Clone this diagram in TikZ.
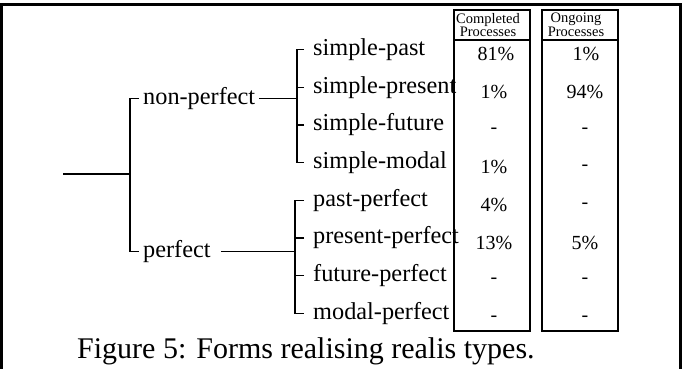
\documentclass[tikz,border=0pt]{standalone}
\usepackage{fontspec}
\setmainfont{Liberation Serif}
\usetikzlibrary{positioning,calc}
\tikzset{
  leaf/.style={anchor=west,inner xsep=9pt,inner ysep=0pt,font=\fontsize{24.3}{26}\selectfont},
  mid/.style={anchor=west,inner xsep=4pt,inner ysep=0pt,font=\fontsize{24.3}{26}\selectfont},
  val/.style={anchor=base,inner sep=0pt,font=\fontsize{20}{22}\selectfont},
  head/.style={anchor=north,inner sep=0pt,align=center,font=\fontsize{14.5}{12}\selectfont},
  colbox/.style={draw,line width=1.4pt,minimum width=76pt,minimum height=321pt,inner sep=0pt},
  branch/.style={line width=1.3pt},
  frame/.style={line width=3pt}
}

\begin{document}
\begin{tikzpicture}[x=1pt,y=-1pt]
\useasboundingbox (0,0) rectangle (682,369);
\draw[frame] (1.5,369) -- (1.5,4.3) -- (680.3,4.3) -- (680.3,369);

% columns
\node[colbox] (compl) at (492,170.5) {};
\node[colbox] (ongo) at (580,170.5) {};
\draw[line width=1.4pt] (454,40) -- (530,40);
\draw[line width=1.4pt] (542,40) -- (618,40);
\node[head] (hcompl) at (488,13) {Completed\\Processes};
\node[head] (hongo) at (576,13) {Ongoing\\Processes};

% tree
\coordinate (root) at (63,174);
\coordinate (jr) at (130,174);
\node[mid] (nonp) at (139,98.7) {non-perfect};
\node[mid] (perf) at (139,251.5) {perfect};
\coordinate (jn) at (297,98.7);
\coordinate (jp) at (295,251.5);

\node[leaf] (spast) at (304,49.5) {simple-past};
\node[leaf] (spres) at (304,87.2) {simple-present};
\node[leaf] (sfut) at (304,124.9) {simple-future};
\node[leaf] (smod) at (304,162.6) {simple-modal};
\node[leaf] (ppast) at (304,200.3) {past-perfect};
\node[leaf] (ppres) at (304,238) {present-perfect};
\node[leaf] (pfut) at (304,275.7) {future-perfect};
\node[leaf] (pmod) at (304,313.4) {modal-perfect};

\draw[branch] (root) -- (jr);
\draw[branch] (nonp.west) -| (jr) |- (perf.west);
\draw[branch] (nonp.east) -- (jn);
\draw[branch,shorten <=6pt] (perf.east) -- (jp);
\draw[branch] (spast.west) -| (jn) |- (smod.west);
\draw[branch] (spres.west) -- (spres.west -| jn);
\draw[branch] (sfut.west) -- (sfut.west -| jn);
\draw[branch] (ppast.west) -| (jp) |- (pmod.west);
\draw[branch] (ppres.west) -- (ppres.west -| jp);
\draw[branch] (pfut.west) -- (pfut.west -| jp);

% values
\node[val] (c1) at (496,60.5) {81\%};
\node[val] (o1) at (586,60.5) {1\%};
\node[val] (c2) at (494,98.2) {1\%};
\node[val] (o2) at (585,98.2) {94\%};
\node[val] (c3) at (494,133) {-};
\node[val] (o3) at (585,133) {-};
\node[val] (c4) at (494,173.6) {1\%};
\node[val] (o4) at (585,170.6) {-};
\node[val] (c5) at (494,211.3) {4\%};
\node[val] (o5) at (585,208.3) {-};
\node[val] (c6) at (494,249) {13\%};
\node[val] (o6) at (585,249) {5\%};
\node[val] (c7) at (494,283.7) {-};
\node[val] (o7) at (585,283.7) {-};
\node[val] (c8) at (494,321.4) {-};
\node[val] (o8) at (585,321.4) {-};

\node[anchor=base west,inner sep=0pt,font=\fontsize{30}{32}\selectfont] (cap) at (77,358) {Figure 5: Forms realising realis types.};
\end{tikzpicture}
\end{document}
